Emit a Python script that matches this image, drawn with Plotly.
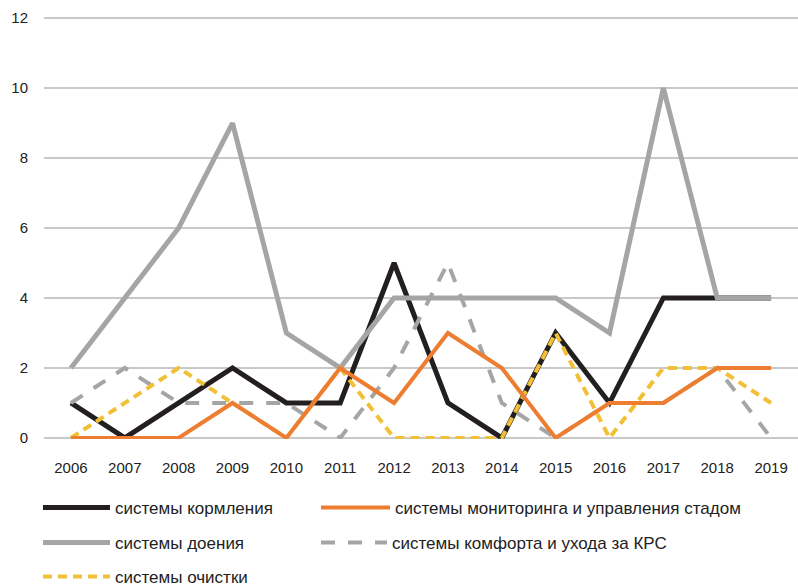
import plotly.graph_objects as go

years = ["2006", "2007", "2008", "2009", "2010", "2011", "2012",
         "2013", "2014", "2015", "2016", "2017", "2018", "2019"]

feeding = [1, 0, 1, 2, 1, 1, 5, 1, 0, 3, 1, 4, 4, 4]
monitoring = [0, 0, 0, 1, 0, 2, 1, 3, 2, 0, 1, 1, 2, 2]
milking = [2, 4, 6, 9, 3, 2, 4, 4, 4, 4, 3, 10, 4, 4]
comfort = [1, 2, 1, 1, 1, 0, 2, 5, 1, 0, 1, 1, 2, 0]
cleaning = [0, 1, 2, 1, 0, 2, 0, 0, 0, 3, 0, 2, 2, 1]

font_fam = "Liberation Sans, Arial, sans-serif"

fig = go.Figure()

# drawing order picked so overlaps look like the original
traces = [
    ("системы кормления", feeding, "#231f20", 5, "solid", "legend"),
    ("системы доения", milking, "#a5a5a5", 5, "solid", "legend3"),
    ("системы комфорта и ухода за КРС", comfort, "#a5a5a5", 4, "14px,13px", "legend4"),
    ("системы очистки", cleaning, "#f2c037", 4, "9px,6px", "legend5"),
    ("системы мониторинга и управления стадом", monitoring, "#ed7d31", 4, "solid", "legend2"),
]

for name, vals, color, width, dash, leg in traces:
    fig.add_trace(go.Scatter(
        x=years, y=vals, name=name, mode="lines",
        line=dict(color=color, width=width, dash=dash),
        legend=leg, hoverinfo="skip",
    ))

# one legend per entry, placed in container coords so they don't squeeze the plot
def leg(x, y, itemwidth):
    return dict(
        orientation="h", xref="container", yref="container",
        xanchor="left", yanchor="middle", x=x, y=y,
        itemwidth=itemwidth,
        font=dict(family=font_fam, size=17, color="#222222"),
        bgcolor="rgba(0,0,0,0)",
    )

col1, col2 = 0.0476, 0.396
row1, row2, row3 = 0.1331, 0.0734, 0.0154

fig.update_layout(
    width=798, height=586,
    margin=dict(l=44, r=0, t=17, b=147),
    plot_bgcolor="white", paper_bgcolor="white",
    showlegend=True,
    legend=leg(col1, row1, 67),
    legend2=leg(col2, row1, 69),
    legend3=leg(col1, row2, 67),
    legend4=leg(col2, row2, 66),
    legend5=leg(col1, row3, 67),
    xaxis=dict(
        type="category", range=[-0.5, 13.5], showgrid=False,
        ticks="outside", ticklen=15, tickcolor="rgba(0,0,0,0)",
        tickfont=dict(family=font_fam, size=15, color="#222222"),
        showline=False, zeroline=False, automargin=False,
    ),
    yaxis=dict(
        range=[-0.03, 12.03], dtick=2, tick0=0,
        showgrid=True, gridcolor="#c8c8c8", gridwidth=1.5,
        zeroline=True, zerolinecolor="#c8c8c8", zerolinewidth=1.5,
        ticks="outside", ticklen=12, tickcolor="rgba(0,0,0,0)",
        tickfont=dict(family=font_fam, size=15, color="#222222"),
        showline=False, automargin=False,
    ),
)

# drop the page's default body margin so the chart sits at the top-left corner
fig.write_html("out.html", config={"displayModeBar": False},
               post_script="document.body.style.margin='0';")
